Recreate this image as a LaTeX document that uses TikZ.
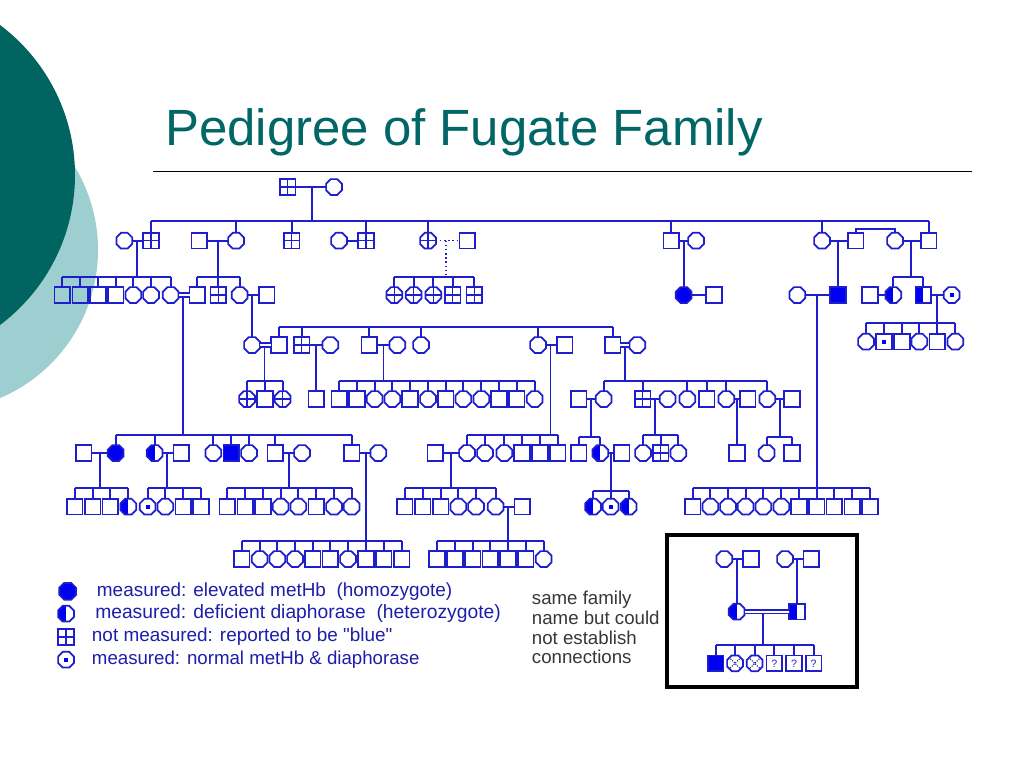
\documentclass[tikz,border=0pt]{standalone}
\usepackage{fontspec}
\setmainfont{Liberation Sans}
\newfontfamily\plainsans{Liberation Sans}
\usetikzlibrary{shapes.geometric}
\definecolor{pedline}{RGB}{30,30,205}
\definecolor{pedfill}{RGB}{0,0,240}
\definecolor{tealdark}{RGB}{0,100,97}
\definecolor{teallight}{RGB}{157,207,208}
\definecolor{titleteal}{RGB}{0,102,102}
\definecolor{legendtext}{RGB}{30,30,170}
\definecolor{notetext}{RGB}{55,55,55}
\tikzset{
  x=0.75pt,y=-0.75pt,
  ped/.style={draw=pedline,line width=1.3pt,inner sep=0pt,outer sep=0pt},
  sq/.style={ped,rectangle,minimum size=11.6pt},
  ci/.style={ped,regular polygon,regular polygon sides=8,minimum size=12.8pt},
  fsq/.style={sq,fill=pedfill},
  fci/.style={ci,fill=pedfill},
  halfpic/.style={path picture={\fill[pedfill] (path picture bounding box.south west) rectangle (path picture bounding box.north);}},
  hsq/.style={sq,halfpic},
  hci/.style={ci,halfpic},
  crosspic/.style={path picture={\draw[pedline,line width=1pt] (path picture bounding box.north)--(path picture bounding box.south) (path picture bounding box.west)--(path picture bounding box.east);}},
  gsq/.style={sq,crosspic},
  cci/.style={ci,crosspic},
  dotpic/.style={path picture={\fill[pedfill] ([xshift=-1.6pt,yshift=-1.6pt]path picture bounding box.center) rectangle ([xshift=1.6pt,yshift=1.6pt]path picture bounding box.center);}},
  dsq/.style={sq,dotpic},
  dci/.style={ci,dotpic},
  xci/.style={ci,path picture={\draw[pedline!70!black,line width=0.8pt,densely dotted] (path picture bounding box.north west)--(path picture bounding box.south east) (path picture bounding box.north east)--(path picture bounding box.south west);}},
  qsq/.style={sq,font=\fontsize{8pt}{9pt}\selectfont,text=pedline},
  conn/.style={draw=pedline,line width=1.25pt},
  dbl/.style={draw=pedline,line width=1.1pt,double=white,double distance=1.8pt},
  dotconn/.style={draw=pedline,line width=1.1pt,dotted},
  legendline/.style={anchor=base west,inner sep=0pt,text=legendtext,font=\fontsize{14.2pt}{16pt}\plainsans},
  noteline/.style={anchor=base west,inner sep=0pt,text=notetext,font=\fontsize{14pt}{16pt}\plainsans},
}
\newcommand\prow[2]{\foreach \nm/\st/\xp in {#2} {\node[\st] (\nm) at (\xp,#1) {};}}
\newcommand\kids[4]{\draw[conn] (#2 |- #1) -- (#3 |- #1);
  \foreach \kd in {#4} {\draw[conn] (\kd.north) -- (\kd |- #1);}}
% pedfam: parent a, partner b, drop x, bar y, first, last, list
\newcommand\pedfam[7]{\draw[conn] (#1) -- (#2);
  \coordinate (#1j) at (#3,0 |- #1);
  \coordinate (#1b) at (#3,#4);
  \draw[conn] (#1j) -- (#1b);
  \kids{#1b}{#5}{#6}{#7}}
\newcommand\peddfam[7]{\draw[dbl] (#1) -- (#2);
  \coordinate (#1k) at (#3,0 |- #1);
  \coordinate (#1j) at ([yshift=-1.6pt]#1k);
  \coordinate (#1b) at (#3,#4);
  \draw[conn] (#1j) -- (#1b);
  \kids{#1b}{#5}{#6}{#7}}
\newcommand\pedsingle[4]{\draw[conn] (#1) -- (#2);
  \coordinate (#1j) at (#3,0 |- #1);
  \draw[conn] (#1j) -- (#1j |- #4.north);}
\begin{document}
\begin{tikzpicture}
\useasboundingbox (0,0) rectangle (1024,768);
\fill[white] (0,0) rectangle (1024,768);
\begin{scope}
\clip (0,0) rectangle (1024,768);
\fill[teallight] (-62.8,250) circle[radius=160.8];
\fill[tealdark] (-112.5,175) circle[radius=187.5];
\end{scope}
\node[anchor=base west,inner sep=0pt,text=titleteal,font=\fontsize{38.2pt}{40pt}\selectfont] (title) at (165,145) {Pedigree of Fugate Family};
\coordinate (ruleL) at (153,171);
\coordinate (ruleR) at (972,171);
\draw[black,line width=0.7pt] (ruleL) -- (ruleR);

\prow{187}{i1/gsq/287.7,i2/ci/334}
\prow{240.7}{a1/ci/124.3,a2/gsq/151,a3/sq/199.3,a4/ci/236,a5/gsq/291.7,a6/ci/339,a7/gsq/366,a8/cci/428,a9/sq/467.3,a10/sq/671.3,a11/ci/696,a12/ci/822,a13/sq/855.7,a14/ci/895,a15/sq/928.7}
\prow{295}{b1/sq/62.3,b2/sq/80.3,b3/sq/98,b4/sq/115.7,b5/ci/133.3,b6/ci/151,b7/ci/170.7,b8/sq/197.3,b9/gsq/218.3,b10/ci/239.7,b11/sq/266.7,b12/cci/394.3,b13/cci/413.7,b14/cci/433.3,b15/gsq/452.7,b16/gsq/474.3,b17/fci/683.7,b18/sq/714,b19/ci/797.3,b20/fsq/838,b21/sq/870,b22/hci/893.3,b23/hsq/923.3,b24/dci/951.7}
\prow{345}{c1/ci/252,c2/sq/279,c3/gsq/301.7,c4/ci/330.3,c5/sq/369.3,c6/ci/397.3,c7/ci/421,c8/ci/538,c9/sq/564.7,c10/sq/612.7,c11/ci/637.3}
\prow{341.7}{e1/ci/866,e2/dsq/884,e3/sq/902,e4/ci/919.3,e5/sq/937.3,e6/ci/955.3}
\prow{399}{d1/cci/247,d2/sq/265,d3/cci/282.7,d4/sq/316.3,d5/sq/339.3,d6/sq/357,d7/ci/374.7,d8/ci/392.3,d9/sq/410,d10/ci/428,d11/sq/445.7,d12/ci/463.3,d13/ci/481.3,d14/sq/499,d15/sq/516.7,d16/ci/534.7,d17/sq/578.7,d18/ci/603.7,d19/gsq/642.7,d20/ci/667.7,d21/ci/687.3,d22/sq/706.7,d23/ci/726.3,d24/sq/747.7,d25/ci/767.3,d26/sq/792}
\prow{453}{f1/sq/83.7,f2/fci/115.7,f3/hci/154.7,f4/sq/181.3,f5/ci/213.3,f6/fsq/231.3,f7/ci/249,f8/sq/275.3,f9/ci/302,f10/sq/351.7,f11/ci/378.3,f12/sq/435.3,f13/ci/467,f14/ci/485,f15/ci/504.3,f16/sq/522,f17/sq/540,f18/sq/557.7,f19/sq/578.7,f20/hci/600.3,f21/sq/621.7,f22/ci/643,f23/gsq/660.7,f24/ci/678.3,f25/sq/737,f26/ci/766.7,f27/sq/792}
\prow{506.7}{g1/sq/74.7,g2/sq/92.7,g3/sq/110.3,g4/hci/128.3,g5/dci/147.7,g6/ci/165.3,g7/sq/183.3,g8/sq/201,g9/sq/227.3,g10/sq/245.3,g11/sq/263,g12/ci/280.7,g13/ci/298.3,g14/sq/316.3,g15/ci/334,g16/ci/351.7,g17/sq/404.7,g18/sq/422.7,g19/sq/440.7,g20/ci/458.3,g21/ci/476,g22/ci/495.7,g23/sq/522.3,g24/hci/593,g25/dci/610.7,g26/hci/628.7,g27/sq/692.7,g28/ci/710.3,g29/ci/728,g30/ci/745.7,g31/ci/763.3,g32/ci/781.3,g33/sq/799,g34/sq/816.7,g35/sq/834.3,g36/sq/852.3,g37/sq/870}
\prow{559}{h1/sq/241.7,h2/ci/259.7,h3/ci/277.3,h4/ci/295,h5/sq/312.7,h6/sq/330.3,h7/ci/348,h8/sq/366,h9/sq/383.7,h10/sq/401.7,h11/sq/437,h12/sq/455,h13/sq/472.7,h14/sq/490.3,h15/sq/508,h16/sq/525.7,h17/ci/543.7}

\pedfam{i1}{i2}{312}{221}{a2}{a15}{a2,a4,a5,a7,a8,a10,a12,a15}
\pedfam{a1}{a2}{137}{277}{b1}{b7}{b1,b2,b3,b4,b5,b6,b7}
\pedfam{a3}{a4}{218.3}{277}{b8}{b10}{b8,b9,b10}
\draw[conn] (a6) -- (a7);
\draw[dotconn] (a8) -- (a9);
\coordinate (a8j) at (446,0 |- a8);
\coordinate (a8b) at (446,277);
\draw[dotconn] (a8j) -- (a8b);
\kids{a8b}{b12}{b16}{b12,b13,b14,b15,b16}
\pedsingle{a10}{a11}{683.7}{b17}
\pedsingle{a12}{a13}{838}{b20}
\pedfam{a14}{a15}{911}{277}{b22}{b23}{b22,b23}
\coordinate (lk) at (875,228.7);
\draw[conn] (a13.north) |- (lk) -| (a14.north);
\draw[conn] (b17) -- (b18);
\draw[conn] (b21) -- (b22);
\pedfam{b23}{b24}{937.3}{323.3}{e1}{e6}{e1,e2,e3,e4,e5,e6}
\pedfam{b19}{b20}{816.7}{488}{g27}{g37}{g27,g28,g29,g30,g31,g32,g33,g34,g35,g36,g37}
\pedsingle{b10}{b11}{252}{c1}
\coordinate (cbar) at (400,327);
\kids{cbar}{c2}{c10}{c2,c3,c5,c7,c8,c10}
\peddfam{c1}{c2}{264.5}{381}{d1}{d3}{d1,d2,d3}
\pedsingle{c3}{c4}{316.3}{d4}
\pedfam{c5}{c6}{383.5}{381}{d5}{d16}{d5,d6,d7,d8,d9,d10,d11,d12,d13,d14,d15,d16}
\pedfam{c8}{c9}{550.5}{435}{f13}{f18}{f13,f14,f15,f16,f17,f18}
\peddfam{c10}{c11}{625}{381}{d18}{d25}{d18,d19,d21,d22,d23,d25}
\peddfam{b7}{b8}{183.3}{435}{f2}{f10}{f2,f3,f5,f6,f7,f8,f10}
\pedfam{f1}{f2}{99.7}{488}{g1}{g4}{g1,g2,g3,g4}
\pedfam{f3}{f4}{167}{488}{g5}{g8}{g5,g6,g7,g8}
\pedfam{f8}{f9}{289.3}{488}{g9}{g16}{g9,g10,g11,g12,g13,g14,g15,g16}
\pedfam{f10}{f11}{366}{541}{h1}{h10}{h1,h2,h3,h4,h5,h6,h7,h8,h9,h10}
\pedfam{f12}{f13}{451}{488}{g17}{g22}{g17,g18,g19,g20,g21,g22}
\pedfam{g22}{g23}{508}{541}{h11}{h17}{h11,h12,h13,h14,h15,h16,h17}
\pedfam{d17}{d18}{591.3}{436.7}{f19}{f20}{f19,f20}
\pedfam{d19}{d20}{655.3}{435}{f22}{f24}{f22,f23,f24}
\pedsingle{d23}{d24}{737}{f25}
\pedfam{d25}{d26}{779.7}{436.7}{f26}{f27}{f26,f27}
\pedfam{f20}{f21}{611}{490.7}{g24}{g26}{g24,g25,g26}

% legend
\node[fci,minimum size=13.6pt] (lg1) at (67.7,591.3) {};
\node[hci] (lg2) at (66,613.7) {};
\node[gsq] (lg3) at (66,637) {};
\node[dci] (lg4) at (66,659.7) {};
\node[legendline] (lt1) at (96.7,596.5) {measured: elevated metHb\ \ (homozygote)};
\node[legendline,font=\fontsize{14.45pt}{16pt}\plainsans] (lt2) at (95,618.5) {measured: deficient diaphorase\ \ (heterozygote)};
\node[legendline] (lt3) at (91.7,641.5) {not measured: reported to be "blue"};
\node[legendline,font=\fontsize{14pt}{16pt}\plainsans] (lt4) at (91.7,664.5) {measured: normal metHb \& diaphorase};
\node[noteline] (n1) at (531.7,604) {same family};
\node[noteline] (n2) at (531.7,624) {name but could};
\node[noteline] (n3) at (531.7,644) {not establish};
\node[noteline] (n4) at (531.7,663.3) {connections};

% inset
\node[draw=black,line width=2.6pt,rectangle,minimum width=142.5pt,minimum height=114pt,inner sep=0pt] (box) at (762,611) {};
\prow{559}{x1/ci/724.3,x2/sq/751,x3/ci/785,x4/sq/811.3}
\prow{611.7}{x5/hci/736.7,x6/hsq/797}
\prow{663.3}{x7/fsq/715.7,x8/xci/735,x9/xci/754.7}
\node[qsq] (x10) at (774.3,663.3) {?};
\node[qsq] (x11) at (794,663.3) {?};
\node[qsq] (x12) at (813.7,663.3) {?};
\pedsingle{x1}{x2}{737}{x5}
\pedsingle{x3}{x4}{797.3}{x6}
\peddfam{x5}{x6}{763.3}{645}{x7}{x12}{x7,x8,x9,x10,x11,x12}
\end{tikzpicture}
\end{document}
